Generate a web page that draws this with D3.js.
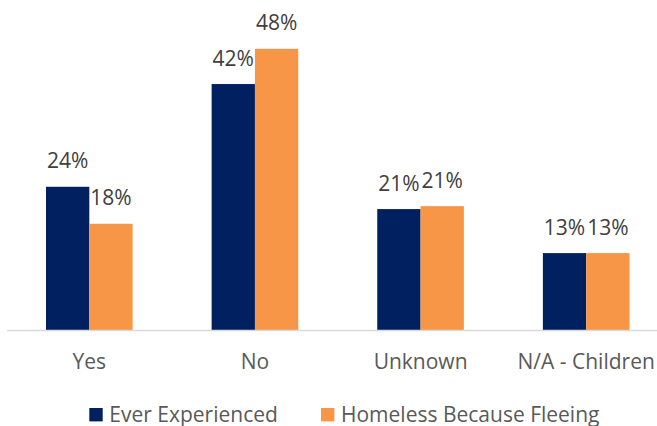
<!DOCTYPE html>
<html>
<head>
<meta charset="utf-8">
<script src="https://cdn.jsdelivr.net/npm/d3@7"></script>
<style>
  html, body { margin: 0; padding: 0; background: #fff; }
  svg { display: block; font-family: "Open Sans", sans-serif; }
</style>
</head>
<body>
<svg id="chart" width="657" height="426"></svg>
<script>
const categories = ["Yes", "No", "Unknown", "N/A - Children"];
const seriesNames = ["Ever Experienced", "Homeless Because Fleeing"];
const everExperienced = [24.4, 41.9, 20.6, 13.1];
const homelessFleeing = [18.1, 47.9, 21.1, 13.1];
const colors = ["#002060", "#F79646"];

const svg = d3.select("#chart");
const W = 657, H = 426;
const baseY = 330;

const x = d3.scaleBand().domain(categories).range([6.5, 669]).paddingInner(0.477).paddingOuter(0.2385);
const xs = d3.scaleBand().domain(seriesNames).range([0, x.bandwidth()]);
const y = d3.scaleLinear().domain([0, 50]).range([baseY, 36.5]);

const data = categories.map((c, i) => ({
  cat: c,
  vals: [
    { s: seriesNames[0], v: everExperienced[i], color: colors[0] },
    { s: seriesNames[1], v: homelessFleeing[i], color: colors[1] }
  ]
}));

const g = svg.selectAll("g.cat").data(data).join("g")
  .attr("class", "cat")
  .attr("transform", d => `translate(${x(d.cat)},0)`);

g.selectAll("rect").data(d => d.vals).join("rect")
  .attr("x", d => xs(d.s))
  .attr("width", xs.bandwidth())
  .attr("y", d => y(d.v))
  .attr("height", d => baseY - y(d.v))
  .attr("fill", d => d.color);

g.selectAll("text.lbl").data(d => d.vals).join("text")
  .attr("class", "lbl")
  .attr("x", d => xs(d.s) + xs.bandwidth() / 2)
  .attr("y", d => y(d.v) - 18.5)
  .attr("text-anchor", "middle")
  .attr("font-size", 21)
  .attr("fill", "#404040")
  .text(d => Math.round(d.v) + "%");

// baseline axis
svg.append("line")
  .attr("x1", 7).attr("x2", W)
  .attr("y1", baseY + 0.5).attr("y2", baseY + 0.5)
  .attr("stroke", "#D9D9D9").attr("stroke-width", 1.5);

// category labels via axis
const axis = d3.axisBottom(x).tickSize(0).tickPadding(0);
const ax = svg.append("g").attr("transform", `translate(0,${baseY})`).call(axis);
ax.select(".domain").remove();
ax.selectAll("text")
  .attr("dy", null)
  .attr("y", 38.5)
  .attr("font-size", 21)
  .attr("font-family", "Open Sans, sans-serif")
  .attr("fill", "#595959");

// legend
const legendItems = [
  { name: seriesNames[0], color: colors[0], x: 89.3 },
  { name: seriesNames[1], color: colors[1], x: 321 }
];
const lg = svg.selectAll("g.leg").data(legendItems).join("g")
  .attr("class", "leg")
  .attr("transform", d => `translate(${d.x},0)`);
lg.append("rect")
  .attr("x", 0).attr("y", 408).attr("width", 13.4).attr("height", 13.4)
  .attr("fill", d => d.color);
lg.append("text")
  .attr("x", 20).attr("y", 421.5)
  .attr("font-size", 21)
  .attr("fill", "#595959")
  .text(d => d.name);
</script>
</body>
</html>
